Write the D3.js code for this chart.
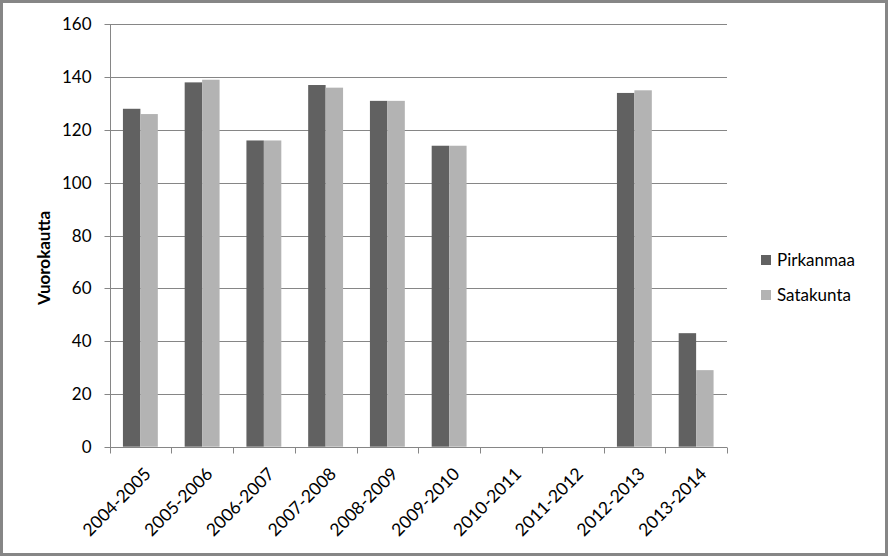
<!DOCTYPE html>
<html><head><meta charset="utf-8">
<script src="https://cdn.jsdelivr.net/npm/d3@7"></script>
<style>body{margin:0;background:#fff}svg{display:block}</style>
</head><body>
<svg id="c" width="888" height="556"></svg>
<script>
const categories = ["2004-2005","2005-2006","2006-2007","2007-2008","2008-2009","2009-2010","2010-2011","2011-2012","2012-2013","2013-2014"];
const pirkanmaa = [128,138,116,137,131,114,null,null,134,43];
const satakunta = [126,139,116,136,131,114,null,null,135,29];
const seriesNames = ["Pirkanmaa","Satakunta"];
const seriesColors = ["#616161","#b3b3b3"];
const yTicks = [0,20,40,60,80,100,120,140,160];
const yTitle = "Vuorokautta";

const svg = d3.select("#c");
const font = "Lato, 'Open Sans', sans-serif";
const m = {l:109.5, r:727, t:24.3, b:446.7};
const gray = "#868686";

svg.append("rect").attr("x",1.5).attr("y",1.5).attr("width",885).attr("height",553)
  .attr("fill","#fff").attr("stroke",gray).attr("stroke-width",3);

const x = d3.scaleBand().domain(categories).range([m.l,m.r]).paddingInner(0).paddingOuter(0);
const y = d3.scaleLinear().domain([0,160]).range([m.b,m.t]);
const xs = d3.scaleBand().domain(seriesNames).range([0,x.bandwidth()]).paddingInner(0).paddingOuter(0.77);

// gridlines
svg.append("g").selectAll("line").data(yTicks.filter(d=>d>0)).join("line")
  .attr("x1",m.l).attr("x2",m.r).attr("y1",d=>Math.round(y(d))+0.5).attr("y2",d=>Math.round(y(d))+0.5)
  .attr("stroke",gray).attr("stroke-width",1);

// bars
const series = [pirkanmaa, satakunta];
series.forEach((vals,si)=>{
  svg.append("g").selectAll("rect").data(categories.map((c,i)=>({c,v:vals[i]})).filter(d=>d.v!=null)).join("rect")
    .attr("x",d=>x(d.c)+xs(seriesNames[si]))
    .attr("width",xs.bandwidth())
    .attr("y",d=>y(d.v))
    .attr("height",d=>y(0)-y(d.v))
    .attr("fill",seriesColors[si]);
});

// y axis
const yAxis = d3.axisLeft(y).tickValues(yTicks).tickSize(6).tickPadding(13);
const gy = svg.append("g").attr("transform",`translate(${Math.round(m.l)+0.5},0)`).call(yAxis);
gy.select(".domain").attr("stroke",gray).attr("d",`M0,${m.t}V${Math.round(m.b)+0.5}`);
gy.selectAll(".tick line").attr("stroke",gray);
gy.selectAll(".tick").attr("transform",d=>`translate(0,${Math.round(y(d))+0.5})`);
gy.selectAll("text").attr("font-family",font).attr("font-size",17).attr("fill","#000");

// x axis
const gx = svg.append("g").attr("transform",`translate(0,${Math.round(m.b)+0.5})`);
gx.append("line").attr("x1",m.l).attr("x2",m.r).attr("stroke",gray);
const bounds = d3.range(categories.length+1).map(i=>m.l+i*x.step());
gx.selectAll(".tk").data(bounds).join("line").attr("class","tk")
  .attr("x1",d=>Math.round(d)+0.5).attr("x2",d=>Math.round(d)+0.5).attr("y1",0).attr("y2",6).attr("stroke",gray);
gx.selectAll("text").data(categories).join("text")
  .attr("transform",d=>`translate(${x(d)+x.bandwidth()/2+3},${19}) rotate(-45)`)
  .attr("text-anchor","end").attr("dy","0.7em")
  .attr("font-family",font).attr("font-size",17.5).attr("fill","#000").text(d=>d);

// y title
svg.append("text").attr("transform","translate(50,258) rotate(-90)").attr("text-anchor","middle")
  .attr("font-family",font).attr("font-size",17).attr("font-weight","bold").attr("fill","#000").text(yTitle);

// legend
const lg = svg.append("g");
seriesNames.forEach((n,i)=>{
  const yy = 255 + i*35;
  lg.append("rect").attr("x",761).attr("y",yy).attr("width",10).attr("height",10).attr("fill",seriesColors[i]);
  lg.append("text").attr("x",777).attr("y",yy+11).attr("font-family",font).attr("font-size",17).attr("fill","#000").text(n);
});
</script>
</body></html>
